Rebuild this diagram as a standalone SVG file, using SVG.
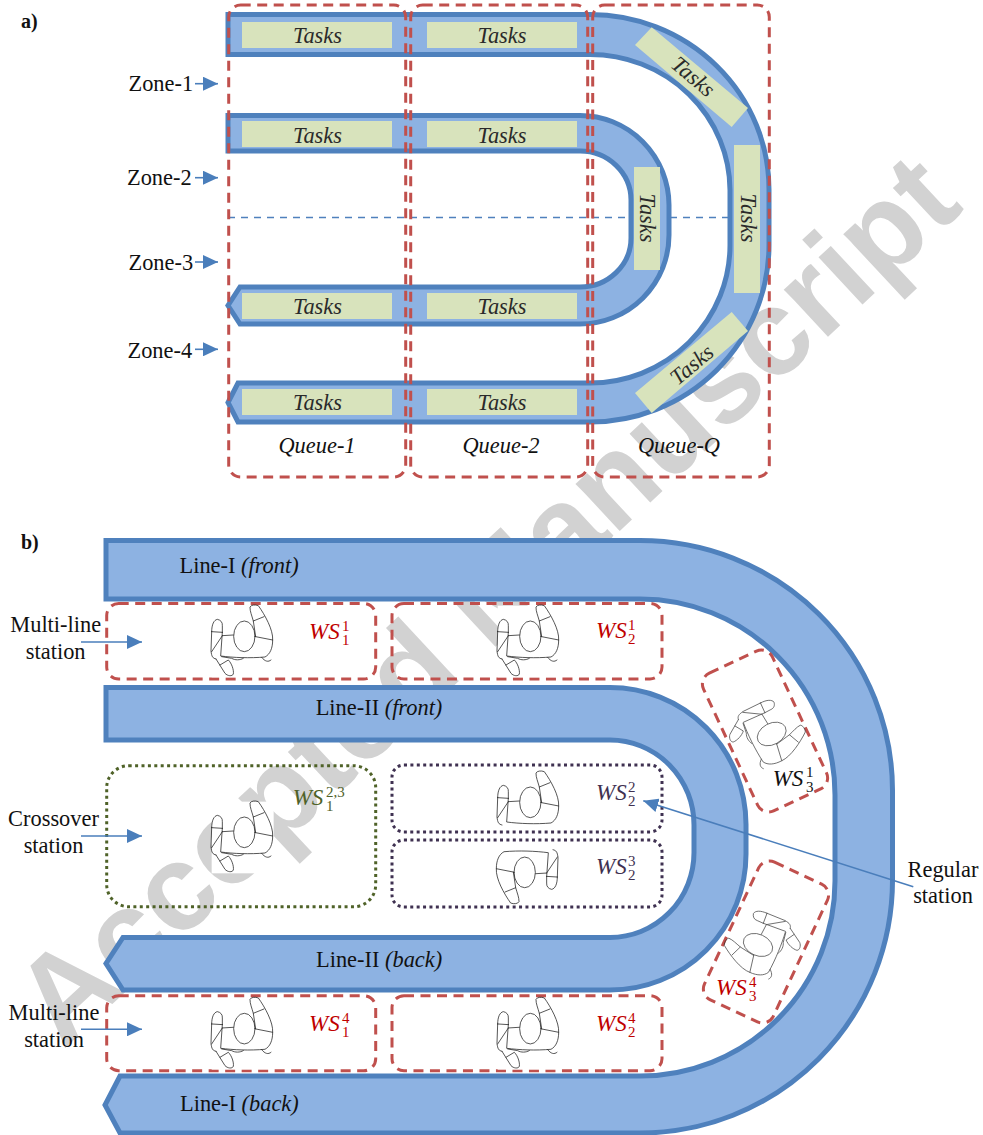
<svg xmlns="http://www.w3.org/2000/svg" xmlns:xlink="http://www.w3.org/1999/xlink" width="983" height="1135" viewBox="0 0 983 1135">
<style>
text{font-family:"Liberation Serif",serif;font-size:22.4px;fill:#111}
.i{font-style:italic}
.c{text-anchor:middle}
.lab{font-weight:bold;font-size:20px}
.wm{font-family:"Liberation Sans",sans-serif;font-weight:bold;font-size:122px;fill:#d2d2d2}
.band{fill:#8db2e2;stroke:#4f81bd;stroke-width:5;stroke-linejoin:miter}
.bandb{fill:#8db2e2;stroke:#4f81bd;stroke-width:5;stroke-linejoin:miter}
.g{fill:#d8e3bc}
.tk{fill:#2a2a2a}
.rd{fill:none;stroke:#c0504d;stroke-width:3;stroke-dasharray:10 6.500}
.gd{fill:none;stroke:#4f6228;stroke-width:3;stroke-dasharray:3 3.400}
.pd{fill:none;stroke:#3f3151;stroke-width:3;stroke-dasharray:3 3.400}
.ar{fill:none;stroke:#4a7ebb;stroke-width:1.600;marker-end:url(#h)}
.ws{font-size:23px;font-style:italic}
.ss{font-size:15px;font-style:normal}
.red{fill:#c00000}
.grn{fill:#4f6228}
.pur{fill:#3f3151}
.blk{fill:#111}
.p{fill:none;stroke:#222;stroke-width:2.300;stroke-linejoin:round;stroke-linecap:round}
</style>
<defs>
<marker id="h" markerUnits="userSpaceOnUse" markerWidth="15" markerHeight="14" refX="15" refY="7" orient="auto"><path d="M0 0L15 7L0 14Z" fill="#4a7ebb"/></marker>
<g id="pb" class="p">
<ellipse cx="163" cy="124" rx="32" ry="46"/>
<path d="M65 110C65 88 72 75 82 73C92 75 98 82 97 92L97 112M65 110L97 112M65 110L63 168C65 185 68 190 78 192M65 170L97 122M97 112L92 183C130 188 180 190 225 186C240 178 248 160 248 135C250 105 225 60 205 32C195 28 183 30 180 36C180 50 185 60 190 78L197 125M190 78L222 65M197 125L248 135M97 122L130 120"/>
</g>
<g id="pa" class="p">
<path d="M78 192L105 235C112 243 127 245 130 237C132 225 125 205 115 195L90 210M95 185L125 190C135 196 150 196 160 190M215 187C225 200 235 202 243 195"/>
</g>
<g id="person"><rect x="65" y="32" width="186" height="215" fill="#fff"/><use xlink:href="#pb"/><use xlink:href="#pa"/></g>
<g id="person2"><rect x="65" y="32" width="186" height="160" fill="#fff"/><use xlink:href="#pb"/></g>
</defs>
<g id="watermark"><text class="wm" transform="translate(63 1050) rotate(-43)">Accepted Manuscript</text></g>

<g id="diagram-a">
<path d="M228 217.500H730" fill="none" stroke="#4f81bd" stroke-width="1.300" stroke-dasharray="7 6"/>
<g id="a-outer-band"><path class="band" d="M228 14.500H590A179 175 0 0 1 769 190V245A179 177 0 0 1 590 422H238L228 402.500L238 383H590A140 138 0 0 0 730 245V190A140 136 0 0 0 590 54.500H228Z"/></g>
<g id="a-inner-band"><path class="band" d="M228 115.500H580A89 90 0 0 1 669 205V235A89 89 0 0 1 580 324H240L228 305.500L240 287H580A51 49 0 0 0 631 238V200A51 49 0 0 0 580 151H228Z"/></g>
<g id="a-tasks">
<rect class="g" x="242" y="22" width="150" height="26"/><rect class="g" x="427" y="22" width="150" height="26"/>
<rect class="g" x="242" y="121" width="150" height="26"/><rect class="g" x="427" y="121" width="150" height="26"/>
<rect class="g" x="242" y="293" width="150" height="26"/><rect class="g" x="427" y="293" width="150" height="26"/>
<rect class="g" x="242" y="389" width="150" height="26"/><rect class="g" x="427" y="389" width="150" height="26"/>
<rect class="g" x="634" y="167" width="26" height="103"/><rect class="g" x="734" y="145" width="26" height="148"/>
<polygon class="g" points="651.700,27.300 748,108 731.700,127 635,45"/>
<polygon class="g" points="731.700,312 748,331 651.700,413 635,393"/>
<text class="i c tk" x="317.500" y="43">Tasks</text><text class="i c tk" x="502" y="43">Tasks</text>
<text class="i c tk" x="317.500" y="142.500">Tasks</text><text class="i c tk" x="502" y="142.500">Tasks</text>
<text class="i c tk" x="317.500" y="314">Tasks</text><text class="i c tk" x="502" y="314">Tasks</text>
<text class="i c tk" x="317.500" y="410">Tasks</text><text class="i c tk" x="502" y="410">Tasks</text>
<text class="i c tk" transform="translate(640 218) rotate(90)">Tasks</text>
<text class="i c tk" transform="translate(741 218) rotate(90)">Tasks</text>
<text class="i c tk" transform="translate(693 77) rotate(40) translate(0 7)">Tasks</text>
<text class="i c tk" transform="translate(692 365) rotate(-40) translate(0 7)">Tasks</text>
</g>
<g id="queue-1"><rect class="rd" x="228.700" y="5" width="177" height="472" rx="12"/><text class="i c" x="317" y="453">Queue-1</text></g>
<g id="queue-2"><rect class="rd" x="410.700" y="5" width="177" height="472" rx="12"/><text class="i c" x="501" y="453">Queue-2</text></g>
<g id="queue-q"><rect class="rd" x="592.700" y="5" width="176.600" height="472" rx="12"/><text class="i c" x="679" y="453">Queue-Q</text></g>
<g id="zones">
<text x="128.500" y="91">Zone-1</text><text x="127" y="185">Zone-2</text><text x="128.500" y="269.500">Zone-3</text><text x="127.500" y="358">Zone-4</text>
</g>
<text class="lab" x="21" y="28">a)</text>
</g>

<g id="diagram-b">
<text class="lab" x="21" y="549">b)</text>
<g id="line-1"><path class="bandb" d="M106 540.500H640A252.500 250 0 0 1 892.500 790.500V880A252.500 253 0 0 1 640 1133H120L105 1105L120 1076H640A195 195 0 0 0 835 881V795A195 196 0 0 0 640 599H106Z"/>
<text x="179.500" y="573">Line-I <tspan class="i">(front)</tspan></text><text x="180" y="1111">Line-I <tspan class="i">(back)</tspan></text></g>
<g id="line-2"><path class="bandb" d="M106 687.500H610A136 137 0 0 1 746 824.500V854A136 136 0 0 1 610 990H123L106 963.500L123 937.500H610A84 85 0 0 0 694 852.500V825A84 85 0 0 0 610 740H106Z"/>
<text x="315.700" y="715">Line-II <tspan class="i">(front)</tspan></text><text x="316" y="967">Line-II <tspan class="i">(back)</tspan></text></g>

<g id="ws-1-1"><rect class="rd" x="106.700" y="603.500" width="269" height="75.500" rx="12"/><use xlink:href="#person" transform="translate(190 595) scale(.3333)"/>
<text class="ws red" x="309" y="639">WS<tspan class="ss red" x="342" y="630.500">1</tspan><tspan class="ss red" x="342" y="645">1</tspan></text></g>
<g id="ws-2-1"><rect class="rd" x="392" y="603.500" width="270" height="75.500" rx="12"/><use xlink:href="#person" transform="translate(476 595) scale(.3333)"/>
<text class="ws red" x="596" y="638">WS<tspan class="ss red" x="628" y="629.500">1</tspan><tspan class="ss red" x="628" y="644">2</tspan></text></g>
<g id="ws-1-23"><rect class="gd" x="106.700" y="765.700" width="269" height="141" rx="22"/><use xlink:href="#person" transform="translate(190 791) scale(.3333)"/>
<text class="ws grn" x="292.700" y="805">WS<tspan class="ss grn" x="326" y="796.500">2,3</tspan><tspan class="ss grn" x="326" y="811">1</tspan></text></g>
<g id="ws-2-2"><rect class="pd" x="392" y="765" width="270" height="67" rx="12"/><use xlink:href="#person2" transform="translate(476 761) scale(.3333)"/>
<text class="ws pur" x="596" y="800">WS<tspan class="ss pur" x="628" y="791.500">2</tspan><tspan class="ss pur" x="628" y="806">2</tspan></text></g>
<g id="ws-2-3"><rect class="pd" x="392" y="840" width="270" height="67" rx="12"/><use xlink:href="#person2" transform="rotate(180 527.500 837.350) translate(476 761) scale(.3333)"/>
<text class="ws pur" x="596" y="874">WS<tspan class="ss pur" x="628" y="865.500">3</tspan><tspan class="ss pur" x="628" y="880">2</tspan></text></g>
<g id="ws-1-4"><rect class="rd" x="106.700" y="995.700" width="269" height="75" rx="12"/><use xlink:href="#person" transform="translate(190 987.300) scale(.3333)"/>
<text class="ws red" x="309" y="1031">WS<tspan class="ss red" x="342" y="1022.500">4</tspan><tspan class="ss red" x="342" y="1037">1</tspan></text></g>
<g id="ws-2-4"><rect class="rd" x="392" y="995.700" width="270" height="75" rx="12"/><use xlink:href="#person" transform="translate(476 987.300) scale(.3333)"/>
<text class="ws red" x="596" y="1031">WS<tspan class="ss red" x="628" y="1022.500">4</tspan><tspan class="ss red" x="628" y="1037">2</tspan></text></g>
<g id="ws-3-1"><rect class="rd" x="727" y="655" width="76" height="152" rx="12" transform="rotate(-25 765 731)"/>
<g transform="translate(771.700 734) rotate(62) scale(.3333) translate(-163 -124)" opacity=".75"><use xlink:href="#pb"/><use xlink:href="#pa"/></g>
<text class="ws blk" x="772.700" y="785.700">WS<tspan class="ss blk" x="806" y="777">1</tspan><tspan class="ss blk" x="806" y="792">3</tspan></text></g>
<g id="ws-3-4"><rect class="rd" x="728" y="866" width="76" height="152" rx="12" transform="rotate(25 766 942)"/>
<g transform="translate(758 945) rotate(-66) scale(-.3333 .3333) translate(-163 -124)" opacity=".75"><use xlink:href="#pb"/><use xlink:href="#pa"/></g>
<text class="ws red" x="716" y="995">WS<tspan class="ss red" x="749" y="986.500">4</tspan><tspan class="ss red" x="749" y="1001">3</tspan></text></g>

<g id="labels-b">
<text class="c" x="55.700" y="631.700">Multi-line</text><text class="c" x="55.700" y="659">station</text>
<text class="c" x="53.500" y="826">Crossover</text><text class="c" x="53.500" y="852.700">station</text>
<text class="c" x="54" y="1020">Multi-line</text><text class="c" x="54" y="1046.700">station</text>
<text class="c" x="943" y="876.700">Regular</text><text class="c" x="943" y="903.300">station</text>
</g>
</g>

<g id="connectors">
<path class="ar" d="M195 83.700H218"/><path class="ar" d="M195 177.700H218"/><path class="ar" d="M195 262H218"/><path class="ar" d="M195 349.300H218"/>
<path class="ar" d="M81 642H142"/><path class="ar" d="M81 836H142"/><path class="ar" d="M81 1029.300H142"/>
<path class="ar" d="M913.300 886.700L643.300 800.700"/>
</g>
</svg>
